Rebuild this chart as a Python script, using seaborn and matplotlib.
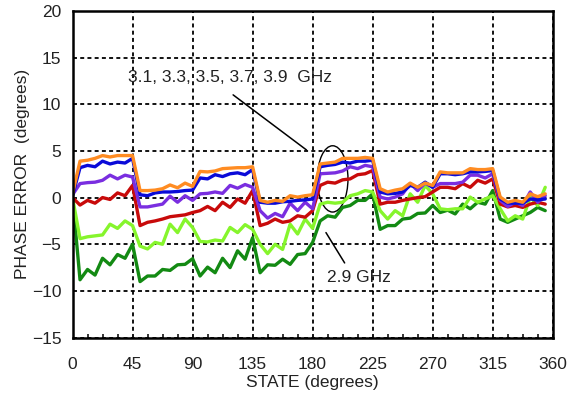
import numpy as np
import pandas as pd
import matplotlib
matplotlib.use("Agg")
import matplotlib.pyplot as plt
import seaborn as sns
from matplotlib.patches import Ellipse
from matplotlib.ticker import MultipleLocator

# 64 states, 5.625 deg step
state = np.arange(64) * 5.625

f29 = [0, -8.8, -7.7, -8.3, -6.5, -7.2, -6.1, -6.5, -5.0, -9.0, -8.4,
       -8.4, -7.7, -7.8, -7.2, -7.15, -6.55, -8.4, -7.45, -8.05, -6.5, -7.5,
       -5.7, -6.6, -4.3, -8.05, -7.2, -7.25, -6.6, -7.15, -6.1, -6.0, -4.8,
       -2.5, -1.95, -2.1, -1.05, -0.85, -0.3, -0.3, 0.4, -3.4, -3.0,
       -3.0, -2.3, -2.2, -1.7, -1.65, -0.85, -1.6, -1.35, -1.75, -0.7, -1.2,
       -0.5, -0.7, 0.75, -2.3, -2.65, -2.3, -1.95, -1.6, -1.05, -1.4]
f31 = [0, -4.4, -4.2, -4.1, -4.0, -2.85, -3.3, -2.5, -3.0, -5.2, -5.5,
       -4.8, -5.0, -2.85, -3.75, -2.3, -3.2, -4.7, -4.75, -4.55, -4.65, -3.2,
       -3.75, -2.9, -3.4, -5.0, -6.0, -5.0, -5.55, -2.85, -3.9, -2.3, -3.3,
       -0.7, -0.5, -0.6, -0.5, 0.2, 0.4, 0.75, 0.6, -1.4, -2.3,
       -1.4, -1.95, 0.4, -0.5, 1.3, 0.4, -1.2, -1.3, -1.2, -1.2, 0.05,
       -0.5, -0.15, 0.2, -1.2, -2.5, -1.95, -2.3, 0.05, -0.85, 1.1]
f33 = [0, -0.8, -0.3, -0.6, 0.0, -0.2, 0.5, 0.2, 1.3, -3.0, -2.65,
       -2.5, -2.3, -2.05, -1.95, -1.85, -1.6, -1.4, -0.95, -1.4, -0.5, -1.05,
       -0.15, -0.6, 0.75, -3.0, -2.75, -2.3, -2.65, -2.5, -1.95, -2.1, -1.4,
       1.3, 1.65, 1.55, 1.9, 2.0, 2.45, 2.55, 2.9, -0.7, -0.5,
       -0.5, -0.3, -0.15, 0.0, 0.1, 0.6, 1.1, 1.1, 0.95, 1.5, 1.1,
       1.85, 1.55, 2.0, -0.7, -1.0, -0.85, -1.05, -0.7, -0.5, -0.7]
f35 = [0.3, 1.5, 1.6, 1.65, 1.85, 2.4, 2.0, 2.4, 2.2, -1.0, -1.0,
       -0.85, -0.7, 0.15, -0.5, 0.2, -0.3, 0.4, 0.45, 0.6, 0.45, 1.3,
       1.0, 1.4, 1.1, -1.4, -2.2, -1.7, -2.05, -0.6, -1.4, -0.5, -1.2,
       2.55, 2.6, 2.65, 2.85, 3.3, 3.1, 3.45, 3.3, 0.05, -0.15,
       0.05, 0.4, 1.5, 0.75, 1.55, 1.1, 1.5, 1.5, 1.5, 1.65, 2.4,
       2.4, 2.1, 2.55, -0.3, -0.95, -0.5, -0.85, 0.6, -0.5, 0.2]
f37 = [0.2, 3.2, 3.45, 3.3, 3.9, 3.6, 3.8, 3.7, 4.2, 0.3, 0.2,
       0.5, 0.6, 0.6, 0.65, 0.75, 0.8, 2.1, 2.0, 2.45, 2.25, 2.55,
       2.65, 2.45, 3.0, -0.5, -0.6, -0.6, -0.45, -0.4, -0.3, -0.25, -0.15,
       3.3, 3.45, 3.55, 3.8, 3.7, 3.9, 3.9, 4.0, 0.6, 0.4,
       0.45, 0.6, 1.3, 1.1, 1.65, 1.1, 2.55, 2.55, 2.45, 2.55, 2.75,
       2.75, 2.8, 2.9, -0.15, -0.6, -0.6, -0.6, -0.15, -0.25, -0.15]
f39 = [0.4, 3.9, 4.0, 4.2, 4.5, 4.35, 4.5, 4.5, 4.5, 0.75, 0.75,
       0.8, 0.95, 1.35, 1.05, 1.55, 1.2, 2.8, 2.75, 2.85, 3.1, 3.15,
       3.2, 3.2, 3.3, -0.3, -0.5, -0.3, -0.4, 0.2, 0.05, 0.2, 0.3,
       3.6, 3.7, 3.8, 4.2, 4.2, 4.2, 4.3, 4.2, 0.95, 0.6,
       0.8, 0.95, 1.55, 1.1, 1.55, 1.3, 2.75, 2.65, 2.65, 2.65, 3.1,
       3.0, 3.0, 3.1, 0.05, -0.5, -0.3, -0.5, 0.4, 0.1, 0.4]

freqs = ["2.9 GHz", "3.1 GHz", "3.3 GHz", "3.5 GHz", "3.7 GHz", "3.9 GHz"]
colors = ["#138a13", "#86f52c", "#c80a0a", "#7a2ee0", "#0a0ad8", "#ff8c22"]

df = pd.DataFrame({
    "state": np.tile(state, len(freqs)),
    "error": np.concatenate([f29, f31, f33, f35, f37, f39]),
    "freq": np.repeat(freqs, len(state)),
})

sns.set_style("white")
plt.rcParams["font.family"] = ["Liberation Sans", "DejaVu Sans"]

fig = plt.figure(figsize=(5.71, 4.09), dpi=100)
ax = fig.add_axes([0.127, 0.1745, 0.841, 0.799])

sns.lineplot(data=df, x="state", y="error", hue="freq", palette=colors,
             hue_order=freqs, linewidth=2.4, legend=False, ax=ax, sort=False)

ax.set_xlim(0, 360)
ax.set_ylim(-15, 20)
ax.set_xticks(np.arange(0, 361, 45))
ax.set_yticks(np.arange(-15, 21, 5))
ax.xaxis.set_minor_locator(MultipleLocator(11.25))
ax.grid(True, which="major", color="black", linestyle=(0, (2.2, 1.8)), linewidth=1.3)
ax.set_axisbelow(True)
ax.tick_params(axis="both", which="major", length=0, labelsize=12.5, colors="#222222")
ax.tick_params(axis="x", which="major", pad=14)
ax.tick_params(axis="y", which="major", pad=8)
ax.tick_params(axis="x", which="minor", direction="in", length=3, width=1.3, bottom=True)
for sp in ax.spines.values():
    sp.set_color("black")
    sp.set_linewidth(1.8)

ax.set_xlabel("STATE (degrees)", fontsize=12.5, color="#222222", labelpad=2)
ax.set_ylabel("PHASE ERROR  (degrees)", fontsize=12.5, color="#222222", labelpad=1)

# annotations
ax.text(41.5, 12.9, "3.1, 3.3, 3.5, 3.7, 3.9  GHz", fontsize=12.5,
        color="#222222", va="center", ha="left")
ax.plot([120.4, 175.4], [11.0, 5.1], color="black", linewidth=1.1)
ax.add_patch(Ellipse((195, 2.0), 23, 7.1, fill=False, edgecolor="black", linewidth=1.0))
ax.plot([190, 204], [-3.75, -7.0], color="black", linewidth=1.1)
ax.text(190.5, -8.6, "2.9 GHz", fontsize=12.5, color="#222222", va="center", ha="left")

fig.savefig("out.png", dpi=100)
